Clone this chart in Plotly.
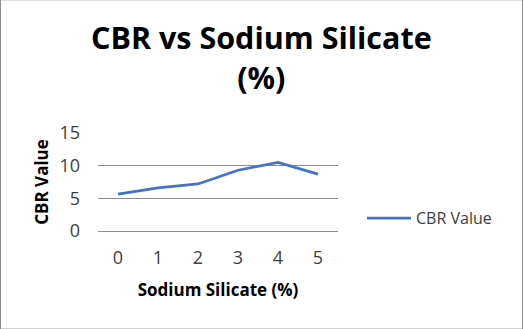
import plotly.graph_objects as go

# Sodium silicate dosage (%) and measured CBR values
silicate_pct = ["0", "1", "2", "3", "4", "5"]
cbr_values = [5.65, 6.6, 7.2, 9.3, 10.5, 8.7]
y_ticks = [0, 5, 10, 15]

FONT = "'Open Sans', sans-serif"
PLOT_H = 97.7  # plot-area height in px, used to place paper-referenced items
PLOT_W = 240

fig = go.Figure()
fig.add_trace(go.Scatter(
    x=silicate_pct, y=cbr_values, mode="lines", name="CBR Value",
    line=dict(color="#4472C4", width=2.75),
))

fig.update_layout(
    width=523, height=329,
    margin=dict(l=98, r=185, t=133, b=98),
    paper_bgcolor="white", plot_bgcolor="white",
    font=dict(family=FONT, color="#404040"),
    showlegend=True,
    legend=dict(
        x=(362 - 98) / PLOT_W, y=(230.7 - 218) / PLOT_H,
        xanchor="left", yanchor="middle",
        font=dict(size=16, color="#404040", family=FONT),
        bgcolor="rgba(0,0,0,0)", itemwidth=44,
    ),
    annotations=[dict(
        text="<b>CBR vs Sodium Silicate<br>(%)</b>",
        xref="paper", yref="paper", x=(261 - 98) / PLOT_W,
        y=(230.7 - 14) / PLOT_H, xanchor="center", yanchor="top",
        showarrow=False, align="center",
        font=dict(size=30.5, color="black", family=FONT),
    )],
    shapes=[dict(type="rect", xref="paper", yref="paper",
                 x0=-97.5 / PLOT_W, x1=1 + 184.5 / PLOT_W,
                 y0=-97.8 / PLOT_H, y1=1 + 132.8 / PLOT_H,
                 line=dict(color="#8c8c8c", width=1))],
)

fig.update_xaxes(
    type="category", range=[-0.5, 5.5],
    showgrid=False, showline=True, linecolor="#8c8c8c", linewidth=1,
    ticks="", ticklabelstandoff=10, tickfont=dict(size=18, color="#404040"),
    title=dict(text="<b>Sodium Silicate (%)</b>", font=dict(size=17, color="black"), standoff=16),
)
fig.update_yaxes(
    range=[0, 15], tickvals=y_ticks,
    showgrid=True, gridcolor="#8c8c8c", gridwidth=1,
    showline=False, zeroline=False, ticks="",
    ticklabelstandoff=17, tickfont=dict(size=18, color="#404040"),
    title=dict(text="<b>CBR Value</b>", font=dict(size=17, color="black"), standoff=6),
)

fig.write_html("out.html")
